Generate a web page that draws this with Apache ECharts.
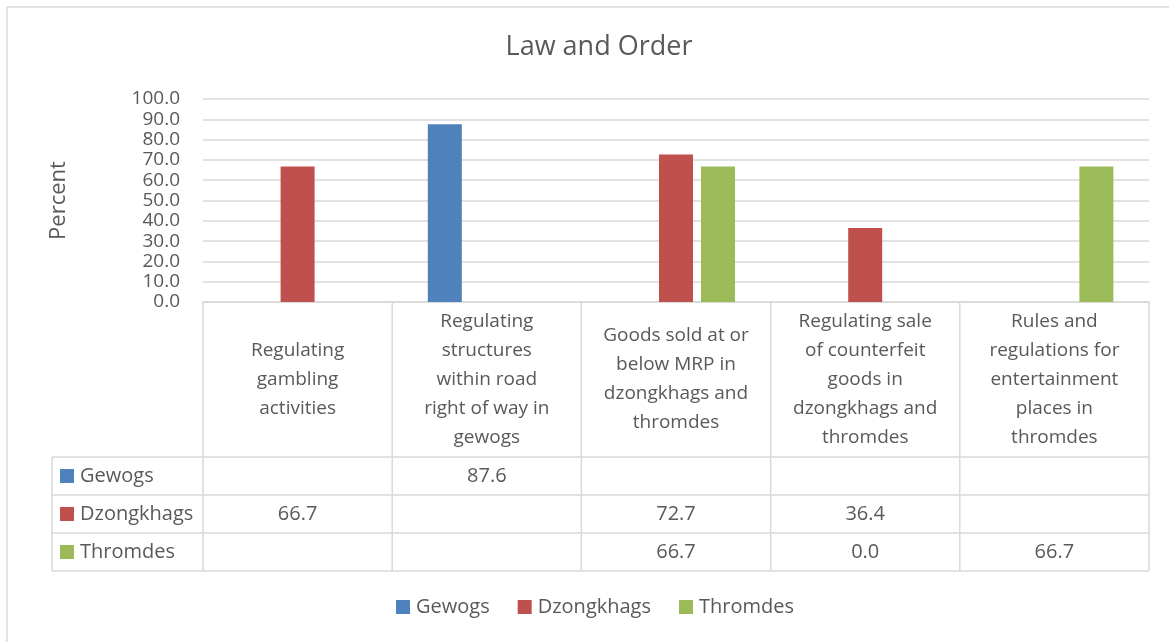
<!DOCTYPE html>
<html>
<head>
<meta charset="utf-8">
<script src="https://cdn.jsdelivr.net/npm/echarts@6/dist/echarts.min.js"></script>
<style>
  html, body { margin: 0; padding: 0; background: #ffffff; }
  #chart { width: 1169px; height: 642px; }
</style>
</head>
<body>
<div id="chart"></div>
<script>
// Category names (line breaks as wrapped in the header cells)
const categories = [
  'Regulating\ngambling\nactivities',
  'Regulating\nstructures\nwithin road\nright of way in\ngewogs',
  'Goods sold at or\nbelow MRP in\ndzongkhags and\nthromdes',
  'Regulating sale\nof counterfeit\ngoods in\ndzongkhags and\nthromdes',
  'Rules and\nregulations for\nentertainment\nplaces in\nthromdes'
];
const seriesNames = ['Gewogs', 'Dzongkhags', 'Thromdes'];
const gewogs     = [null, 87.6, null, null, null];
const dzongkhags = [66.7, null, 72.7, 36.4, null];
const thromdes   = [null, null, 66.7, 0.0, 66.7];
const yTicks = { min: 0, max: 100, interval: 10 };

const colors = ['#4F81BD', '#C0504D', '#9BBB59'];
const seriesData = [gewogs, dzongkhags, thromdes];
const FONT = '"Open Sans", "Noto Sans", sans-serif';
const TXT = '#595959';
const LINE = '#d9d9d9';

// plot area and data-table geometry
const G = { left: 203, right: 1149, top: 99, bottom: 302 };
const headerBottom = 457;
const rowH = 38;
const tableLeft = 52;

const chart = echarts.init(document.getElementById('chart'), null, { renderer: 'canvas' });

chart.setOption({
  animation: false,
  backgroundColor: '#ffffff',
  color: colors,
  title: {
    text: 'Law and Order',
    left: 594,
    textAlign: 'center',
    top: 29,
    textStyle: { fontFamily: FONT, fontSize: 27, fontWeight: 'normal', color: TXT }
  },
  legend: {
    bottom: 20,
    left: 391,
    itemWidth: 14,
    itemHeight: 14,
    itemGap: 28,
    icon: 'rect',
    textStyle: { fontFamily: FONT, fontSize: 20, color: TXT, padding: [0, 0, 0, 1] },
    data: seriesNames
  },
  grid: {
    left: G.left,
    right: 1169 - G.right,
    top: G.top,
    bottom: 642 - G.bottom,
    containLabel: false
  },
  xAxis: {
    type: 'category',
    data: categories,
    axisLine: { show: true, lineStyle: { color: LINE, width: 1.5 } },
    axisTick: { show: false },
    axisLabel: {
      interval: 0,
      margin: (headerBottom - G.bottom) / 2,
      verticalAlign: 'middle',
      align: 'center',
      lineHeight: 29,
      fontFamily: FONT,
      fontSize: 19,
      color: TXT
    }
  },
  yAxis: {
    type: 'value',
    min: yTicks.min,
    max: yTicks.max,
    interval: yTicks.interval,
    name: 'Percent',
    nameLocation: 'middle',
    nameGap: 133,
    nameRotate: 90,
    nameTextStyle: { fontFamily: FONT, fontSize: 22, color: TXT },
    axisLine: { show: false },
    axisTick: { show: false },
    axisLabel: {
      margin: 23,
      fontFamily: FONT,
      fontSize: 19,
      color: TXT,
      formatter: v => v.toFixed(1)
    },
    splitLine: { lineStyle: { color: LINE, width: 1.5 } }
  },
  series: seriesNames.map((name, i) => ({
    name: name,
    type: 'bar',
    data: seriesData[i],
    barWidth: 34,
    barGap: '23.5%',
    itemStyle: { color: colors[i] }
  }))
});

// Data table under the plot: grid lines, series keys and values
const graphics = [];
const lineStyle = { stroke: LINE, lineWidth: 1.5 };
function hline(x1, x2, y) {
  graphics.push({ type: 'line', shape: { x1, y1: y, x2, y2: y }, style: lineStyle, silent: true });
}
function vline(x, y1, y2) {
  graphics.push({ type: 'line', shape: { x1: x, y1, x2: x, y2 }, style: lineStyle, silent: true });
}

// chart frame (top and left edges)
graphics.push({ type: 'line', shape: { x1: 7, y1: 7, x2: 1169, y2: 7 }, style: { stroke: '#d9d9d9', lineWidth: 1.5 }, silent: true });
graphics.push({ type: 'line', shape: { x1: 7, y1: 7, x2: 7, y2: 642 }, style: { stroke: '#d9d9d9', lineWidth: 1.5 }, silent: true });

const tableBottom = headerBottom + rowH * seriesNames.length;
// column boundaries
const colW = (G.right - G.left) / categories.length;
for (let c = 0; c <= categories.length; c++) {
  vline(G.left + c * colW, G.bottom, tableBottom);
}
vline(tableLeft, headerBottom, tableBottom);
for (let r = 0; r <= seriesNames.length; r++) {
  hline(tableLeft, G.right, headerBottom + r * rowH);
}

seriesNames.forEach((name, r) => {
  const cy = headerBottom + r * rowH + rowH / 2;
  graphics.push({
    type: 'rect', shape: { x: 60, y: cy - 7, width: 14, height: 14 },
    style: { fill: colors[r] }, silent: true
  });
  graphics.push({
    type: 'text', x: 80, y: cy,
    style: { text: name, font: '20px ' + FONT, fill: TXT, textVerticalAlign: 'middle', textAlign: 'left' },
    silent: true
  });
  seriesData[r].forEach((v, c) => {
    if (v === null || v === undefined) return;
    const cx = chart.convertToPixel({ xAxisIndex: 0 }, c);
    graphics.push({
      type: 'text', x: cx, y: cy,
      style: { text: v.toFixed(1), font: '20px ' + FONT, fill: TXT, textVerticalAlign: 'middle', textAlign: 'center' },
      silent: true
    });
  });
});

chart.setOption({ graphic: { elements: graphics } });
</script>
</body>
</html>
